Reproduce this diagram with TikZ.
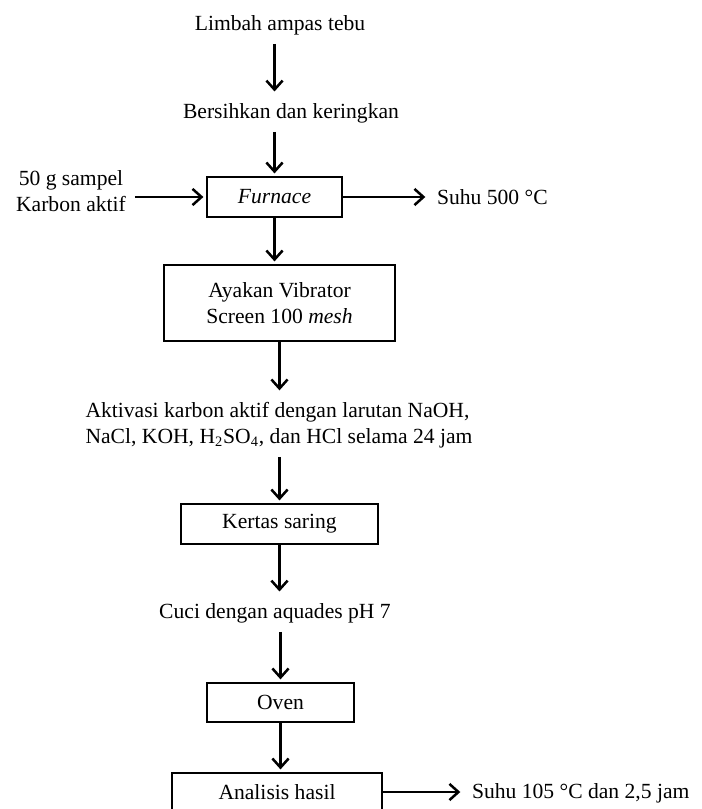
\documentclass[tikz,border=0pt]{standalone}
\usepackage{fontspec}
\setmainfont{Liberation Serif}
\usetikzlibrary{arrows.meta}

\tikzset{
  teks/.style={font=\fontsize{12}{14.5}\selectfont, inner sep=0pt, outer sep=5pt},
  kotak/.style={draw, line width=1pt, font=\fontsize{12}{14.5}\selectfont, inner sep=0pt, align=center},
  panah/.style={-{Straight Barb[length=5pt,width=9pt,line width=1.4pt]}, line width=1.4pt, shorten >=1.5pt},
}

\begin{document}
\begin{tikzpicture}[x=0.5556pt, y=-0.5556pt]
                \useasboundingbox (0,0) rectangle (701,809);
                \clip (0,0) rectangle (701,809);

                % alur utama
                \node[teks] (limbah) at (280,25) {Limbah ampas tebu};
                \node[teks] (bersih) at (291,113) {Bersihkan dan keringkan};
                \node[kotak, minimum width=75pt, minimum height=22.2pt] (furnace) at (274.5,197) {\textit{Furnace}};
                \node[teks, align=center] (sampel) at (71,191) {50 g sampel\\ Karbon aktif};
                \node[teks, anchor=west] (suhuA) at (428,197) {Suhu 500 °C};
                \node[kotak, minimum width=128.3pt, minimum height=42.2pt] (ayakan) at (279.5,303) {Ayakan Vibrator\\ Screen 100 \textit{mesh}};
                \node[teks, align=left] (aktivasi) at (279,425) {Aktivasi karbon aktif dengan larutan NaOH,\\ NaCl, KOH, H\textsubscript{2}SO\textsubscript{4}, dan HCl selama 24 jam};
                \node[kotak, minimum width=109.4pt, minimum height=22.2pt] (kertas) at (279.5,524) {Kertas saring};
                \node[teks] (cuci) at (275,613) {Cuci dengan aquades pH 7};
                \node[kotak, minimum width=81.7pt, minimum height=21.7pt] (oven) at (280.5,702.5) {Oven};
                \node[kotak, minimum width=116.7pt, minimum height=21.1pt] (analisis) at (277,792) {Analisis hasil};
                \node[teks, anchor=west] (suhuB) at (463,793) {Suhu 105 °C dan 2,5 jam};

                % panah
                \draw [panah] (limbah.south -| furnace.north) -- (bersih.north -| furnace.north);
                \draw [panah] (bersih.south -| furnace.north) -- (furnace.north);
                \draw [panah] (sampel.east |- furnace.west) -- (furnace.west);
                \draw [panah] (furnace.east) -- (suhuA.west |- furnace.east);
                \draw [panah] (furnace.south) -- (ayakan.north -| furnace.south);
                \draw [panah] (ayakan.south) -- (aktivasi.north -| ayakan.south);
                \draw [panah] (aktivasi.south -| ayakan.south) -- (kertas.north);
                \draw [panah] (kertas.south) -- (cuci.north -| kertas.south);
                \draw [panah] (cuci.south -| oven.north) -- (oven.north);
                \draw [panah] (oven.south) -- (analisis.north -| oven.south);
                \draw [panah] (analisis.east) -- (suhuB.west |- analisis.east);
\end{tikzpicture}
\end{document}
